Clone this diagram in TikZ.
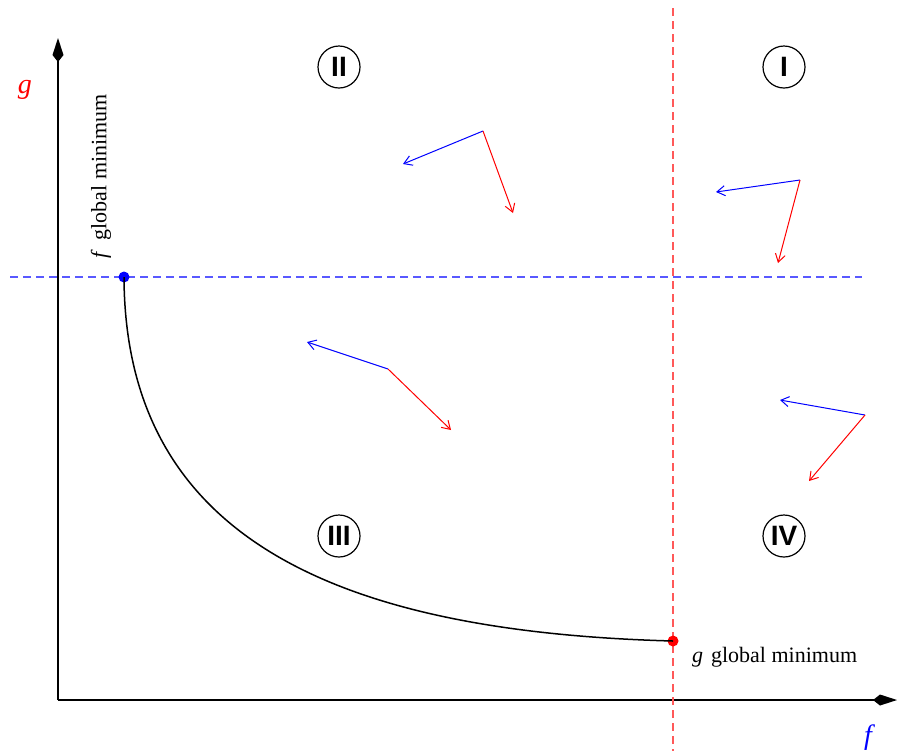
\documentclass[tikz,border=0pt]{standalone}
\usepackage{fontspec}
\setmainfont{Liberation Serif}
\setsansfont{Liberation Sans}
\usetikzlibrary{arrows.meta}

\tikzset{
  axis/.style={line width=1pt,-{Kite[length=12pt,width=5.5pt,inset=3.5pt]}},
  minline/.style={line width=0.6pt,dash pattern=on 4pt off 2.5pt},
  vec/.style={line width=0.5pt,-{Straight Barb[length=4pt,width=5pt]}},
  region/.style={draw,circle,line width=0.6pt,minimum size=21pt,inner sep=0pt,
    font=\sffamily\bfseries\fontsize{14}{14}\selectfont},
  optpt/.style={circle,inner sep=0pt,minimum size=5.5pt},
  lbl/.style={font=\fontsize{11}{13}\selectfont}
}

\begin{document}
\begin{tikzpicture}[x=0.5pt,y=-0.5pt]
\useasboundingbox (0,0) rectangle (897,751);

% Axes
\coordinate (O) at (58,700);
\coordinate (gtop) at (58,38);
\coordinate (fend) at (897,700);
\draw[axis] (O) -- (gtop);
\draw[axis] (O) -- (fend);
\node[red,font=\itshape\fontsize{14}{14}\selectfont] (glab) at (25,90) {g};
\node[blue,font=\itshape\fontsize{14}{14}\selectfont] (flab) at (868,738) {f};

% Dashed lines through the two minima
\coordinate (hl) at (10,277);
\coordinate (hr) at (862,277);
\coordinate (vt) at (673,8);
\coordinate (vb) at (673,751);
\draw[blue!65,minline] (hl) -- (hr);
\draw[red!65,minline] (vt) -- (vb);

% Pareto front
\node[optpt,fill=blue] (fmin) at (124,277) {};
\node[optpt,fill=red] (gmin) at (673,641) {};
\draw[line width=0.75pt] (fmin.center) .. controls (125,540) and (340,632) .. (gmin.center);

\node[lbl,rotate=90,anchor=west] (fminlab) at (101,266) {\textit{f}\hspace{5pt}global minimum};
\node[lbl,anchor=west] (gminlab) at (685,657) {\textit{g}\hspace{4pt}global minimum};

% Regions
\node[region] (rI) at (784,67) {I};
\node[region] (rII) at (339,67) {II};
\node[region] (rIII) at (339,536) {III};
\node[region] (rIV) at (784,536) {IV};

% Gradient pairs
\coordinate (a) at (483,131);
\coordinate (af) at (403,164);
\coordinate (ag) at (513,213);
\coordinate (b) at (800,180);
\coordinate (bf) at (716,192);
\coordinate (bg) at (778,263);
\coordinate (c) at (388,369);
\coordinate (cf) at (307,342);
\coordinate (cg) at (451,430);
\coordinate (d) at (865,415);
\coordinate (df) at (780,400);
\coordinate (dg) at (809,481);
\foreach \p in {a,b,c,d}{
  \draw[vec,blue] (\p) -- (\p f);
  \draw[vec,red] (\p) -- (\p g);
}
\end{tikzpicture}
\end{document}
